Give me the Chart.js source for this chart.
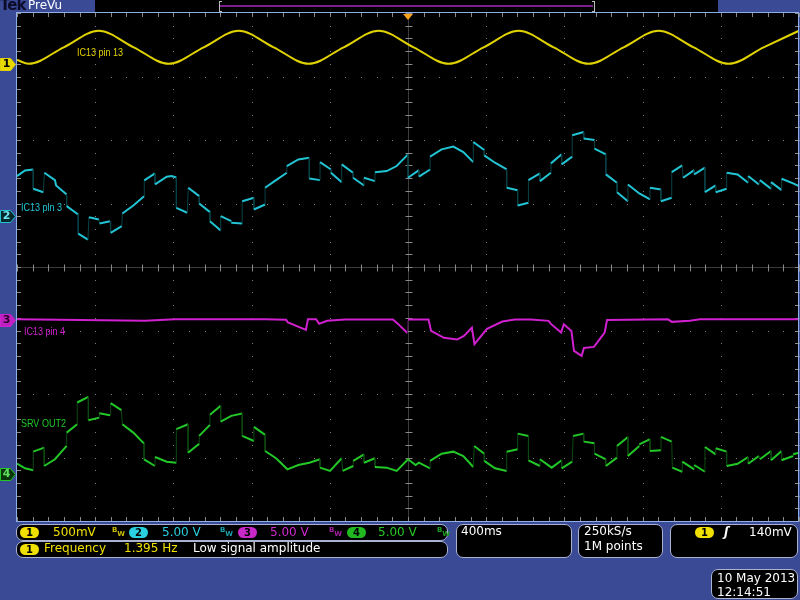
<!DOCTYPE html>
<html>
<head>
<meta charset="utf-8">
<script src="https://cdn.jsdelivr.net/npm/chart.js@4.4.1/dist/chart.umd.min.js"></script>
<style>
  body { margin: 0; background: #3a4a95; }
  #screen { position: relative; width: 800px; height: 600px; overflow: hidden; font-family: "DejaVu Sans", sans-serif; }
  #scope { position: absolute; left: 0; top: 0; }
  .abs { position: absolute; white-space: nowrap; }
  .box { position: absolute; background: #000; border: 1.5px solid #aab2d0; border-radius: 7px; box-sizing: border-box; }
  .txt { position: absolute; white-space: nowrap; font-size: 12px; line-height: 14px; color: #fff; }
  .badge { position: absolute; width: 19px; height: 11px; border-radius: 6px; font: bold 10px/11px "DejaVu Sans", sans-serif; text-align: center; color: #000; }
  .bw { position: absolute; font-size: 7px; line-height: 7px; font-weight: bold; }
  .bw sub { font-size: 7px; vertical-align: -4px; }
  .lbl { position: absolute; white-space: nowrap; font: 11px/12px "Liberation Sans", Arial, sans-serif; transform: scaleX(0.82); transform-origin: left center; }
  .mk { position: absolute; left: 1px; width: 11px; text-align: center; font: bold 11px/14px "DejaVu Sans", sans-serif; }
</style>
</head>
<body>
<div id="screen">
  <canvas id="scope" width="800" height="600"></canvas>

  <!-- top bar -->
  <div class="abs" style="left:95px;top:0;width:623px;height:12px;background:#000"></div>
  <div class="abs" style="left:220px;top:5px;width:373px;height:2px;background:#7e1f8e"></div>
  <div class="abs" style="left:219px;top:1px;width:2px;height:9px;border:1px solid #bbb;border-right:none"></div>
  <div class="abs" style="left:592px;top:1px;width:2px;height:9px;border:1px solid #bbb;border-left:none"></div>
  <div class="abs" style="left:0;top:-3px;font:bold 15px/16px 'DejaVu Sans',sans-serif;color:#0c0c2a;letter-spacing:-1px">Tek</div>
  <div class="abs" style="left:28px;top:-2px;font:12px/14px 'DejaVu Sans',sans-serif;color:#fff">PreVu</div>

  <!-- trace labels -->
  <div class="lbl" style="left:77px;top:46px;color:#e0d200">IC13 pin 13</div>
  <div class="lbl" style="left:21px;top:201px;color:#22c4d4">IC13 pin 3</div>
  <div class="lbl" style="left:24px;top:325px;color:#d020d0">IC13 pin 4</div>
  <div class="lbl" style="left:21px;top:417px;color:#22c828">SRV OUT2</div>

  <!-- channel ground markers -->
  <div class="mk" id="mk1" style="color:#000">1</div>
  <div class="mk" id="mk2" style="color:#6fe6f0">2</div>
  <div class="mk" id="mk3" style="color:#2a002a">3</div>
  <div class="mk" id="mk4" style="color:#5ee05e">4</div>

  <!-- status boxes -->
  <div class="box" style="left:16px;top:524px;width:432px;height:17px"></div>
  <div class="box" style="left:16px;top:541px;width:432px;height:17px"></div>
  <div class="box" style="left:456px;top:524px;width:116px;height:34px"></div>
  <div class="box" style="left:578px;top:524px;width:85px;height:34px"></div>
  <div class="box" style="left:670px;top:524px;width:128px;height:34px"></div>
  <div class="box" style="left:711px;top:569px;width:87px;height:30px"></div>

  <span class="badge" style="left:20px;top:527px;background:#f0e000">1</span>
  <span class="txt" style="left:53px;top:525px;color:#f0e000">500mV</span>
  <span class="bw" style="left:112px;top:527px;color:#c8bc00">B<sub>W</sub></span>
  <span class="badge" style="left:129px;top:527px;background:#2ad0e0">2</span>
  <span class="txt" style="left:162px;top:525px;color:#2ad0e0">5.00 V</span>
  <span class="bw" style="left:220px;top:527px;color:#1aa0ac">B<sub>W</sub></span>
  <span class="badge" style="left:238px;top:527px;background:#c828c8">3</span>
  <span class="txt" style="left:270px;top:525px;color:#d22ad2">5.00 V</span>
  <span class="bw" style="left:329px;top:527px;color:#a020a0">B<sub>W</sub></span>
  <span class="badge" style="left:347px;top:527px;background:#22b822">4</span>
  <span class="txt" style="left:378px;top:525px;color:#28c828">5.00 V</span>
  <span class="bw" style="left:437px;top:527px;color:#20a020">B<sub>W</sub></span>

  <span class="badge" style="left:20px;top:544px;background:#f0e000">1</span>
  <span class="txt" style="left:44px;top:541px;color:#f0e000">Frequency</span>
  <span class="txt" style="left:124px;top:541px;color:#f0e000">1.395 Hz</span>
  <span class="txt" style="left:193px;top:541px">Low signal amplitude</span>

  <span class="txt" style="left:461px;top:524px">400ms</span>
  <span class="txt" style="left:584px;top:524px">250kS/s</span>
  <span class="txt" style="left:584px;top:539px">1M points</span>
  <span class="badge" style="left:695px;top:527px;background:#f0e000">1</span>
  <span class="txt" style="left:724px;top:525px;font-style:italic;font-weight:bold">ʃ</span>
  <span class="txt" style="left:749px;top:525px">140mV</span>
  <span class="txt" style="left:717px;top:571px">10 May 2013</span>
  <span class="txt" style="left:717px;top:585px">12:14:51</span>
</div>

<script>
// scope settings: 400 ms/div over 10 divisions, 8 vertical divisions
const timeRangeMs = [-2000, 2000];
const divRange = [-4, 4];
const channelNames = ['IC13 pin 13', 'IC13 pin 3', 'IC13 pin 4', 'SRV OUT2'];
const voltsPerDiv = [0.5, 5, 5, 5];
const groundDiv = [3.20, 0.80, -0.84, -3.26];

// traces: [time ms, volts]
const ch1Trace = [
  [-2000, 0.03], [-1940, 0], [-1761, 0.13], [-1582, 0.26], [-1403, 0.13], [-1224, 0],
  [-1045, 0.13], [-866, 0.26], [-687, 0.13], [-508, 0], [-329, 0.13], [-150, 0.26],
  [29, 0.13], [208, 0], [387, 0.13], [566, 0.26], [745, 0.13], [924, 0],
  [1103, 0.13], [1282, 0.26], [1461, 0.13], [1640, 0], [1819, 0.13], [2000, 0.26]
];
const ch2Trace = [
  [-2000, 3.16], [-1959, 3.6], [-1917, 3.68], [-1917, 2.16], [-1865, 1.89],
  [-1860, 3.42], [-1806, 2.84], [-1800, 2.42], [-1746, 1.71],
  [-1746, 0.79], [-1687, 0.13], [-1687, -1.37], [-1637, -1.84],
  [-1632, -0.08], [-1581, -0.26], [-1578, -0.58], [-1524, -0.39],
  [-1521, -1.31], [-1464, -0.79], [-1461, 0.21], [-1405, 0.84], [-1350, 1.58],
  [-1349, 2.82], [-1294, 3.37], [-1294, 2.5], [-1234, 3.11], [-1209, 3.17], [-1185, 3.05],
  [-1185, 0.66], [-1129, 0.27], [-1124, 2.24], [-1068, 1.58], [-1068, 1.0], [-1013, 0.32],
  [-1013, -0.39], [-958, -1.13], [-958, 0], [-904, -0.39], [-904, -0.52], [-848, -0.58],
  [-848, 1.18], [-788, 1.45], [-788, 0.53], [-731, 0.92],
  [-731, 2.24], [-675, 2.84], [-620, 3.42], [-620, 3.95], [-561, 4.47], [-505, 4.61],
  [-505, 2.97], [-450, 2.84], [-450, 4.26], [-394, 3.68], [-394, 3.42], [-339, 2.68],
  [-339, 4.08], [-281, 3.42], [-281, 3.03], [-225, 2.42], [-225, 3.03], [-169, 2.76],
  [-169, 3.47], [-109, 3.55], [-58, 3.95], [0, 4.87], [0, 3.03], [56, 3.63],
  [56, 3.11], [113, 3.68], [113, 4.69], [172, 5.26], [232, 5.48], [283, 5.05], [334, 4.26],
  [334, 5.84], [390, 5.21], [390, 4.79], [445, 4.21], [505, 3.68],
  [505, 2.24], [561, 2.05], [561, 0.84], [616, 1.06], [616, 2.84], [675, 3.37],
  [675, 2.76], [731, 3.42], [731, 4.16], [786, 4.87], [786, 4.08], [840, 4.69],
  [840, 6.37], [899, 6.63], [899, 6.11], [954, 6.0], [954, 5.32], [1012, 4.87],
  [1012, 3.29], [1069, 2.63], [1069, 1.89], [1125, 1.18],
  [1125, 2.5], [1183, 1.79], [1238, 1.32], [1238, 2.24], [1294, 2.11],
  [1294, 1.18], [1349, 1.45], [1349, 3.47], [1403, 4.0], [1407, 3.03], [1464, 3.63],
  [1464, 3.29], [1519, 3.82], [1519, 1.89], [1574, 2.42], [1574, 1.89], [1630, 2.16],
  [1630, 3.42], [1686, 3.29], [1740, 2.63], [1740, 3.16], [1795, 2.5],
  [1800, 2.84], [1857, 2.16], [1857, 2.68], [1911, 2.05], [1911, 2.95], [1970, 2.58], [2000, 2.37]
];
const ch3Trace = [
  [-2000, 0.08], [-1345, -0.04], [-1192, 0.08], [-731, 0.09], [-624, 0.04], [-614, -0.17],
  [-522, -0.75], [-512, 0.08], [-470, 0.08], [-455, -0.28], [-414, -0.04], [-322, 0.06],
  [-77, 0.06], [-51, -0.28], [-3, -0.99], [0, 0.06], [105, 0.06], [118, -0.83],
  [184, -1.38], [251, -1.51], [286, -1.22], [327, -0.57], [340, -1.88], [404, -0.67],
  [483, -0.09], [547, 0.06], [627, 0.06], [719, -0.04], [731, -0.28], [783, -0.96],
  [797, -0.3], [836, -0.83], [849, -2.41], [888, -2.8], [900, -2.17], [951, -2.09],
  [1006, -0.96], [1018, 0.02], [1330, 0.08], [1350, -0.12], [1442, -0.04], [1494, 0.08], [2000, 0.08]
];
const ch4Trace = [
  [-2000, 0.81], [-1959, 0.45], [-1917, 0.29], [-1917, 1.76], [-1861, 2.08],
  [-1861, 0.63], [-1806, 1.16], [-1746, 2.21], [-1746, 3.26], [-1692, 3.92],
  [-1692, 5.63], [-1635, 6.08], [-1635, 4.24], [-1579, 4.44], [-1579, 4.79], [-1524, 4.63],
  [-1521, 5.58], [-1466, 5.03], [-1461, 3.92], [-1405, 3.26], [-1350, 2.39],
  [-1350, 1.16], [-1294, 0.63], [-1294, 1.34], [-1234, 0.97], [-1185, 0.89],
  [-1185, 3.53], [-1125, 3.92], [-1125, 1.68], [-1068, 2.39], [-1068, 3.0], [-1013, 3.87],
  [-1013, 4.66], [-958, 5.37], [-958, 4.13], [-904, 4.58], [-848, 4.76],
  [-848, 3.0], [-788, 2.6], [-788, 3.71], [-731, 3.08],
  [-731, 1.81], [-675, 1.24], [-617, 0.37], [-561, 0.71], [-505, 0.89], [-450, 1.16],
  [-450, 0.5], [-399, 0.24], [-339, 1.24], [-334, 0.24], [-280, 0.63], [-280, 1.03], [-225, 1.55],
  [-225, 0.89], [-169, 1.24], [-169, 0.55], [-109, 0.5], [-58, 0.24], [0, 1.16], [39, 0.71],
  [56, 0.89], [113, 0.45], [113, 1.03], [172, 1.6], [232, 1.76], [283, 1.42], [334, 0.55],
  [339, 2.21], [390, 1.6], [390, 1.03], [445, 0.45], [505, 0.24],
  [505, 1.76], [561, 1.95], [561, 3.18], [616, 3.0],
  [616, 1.08], [675, 0.63], [675, 1.16], [735, 0.5], [786, 1.08], [786, 0.45], [840, 0.97],
  [845, 3.0], [899, 3.18], [899, 2.55], [954, 2.42], [954, 1.6], [1012, 1.16],
  [1012, 0.63], [1069, 1.29], [1069, 2.21], [1125, 2.92],
  [1125, 1.42], [1183, 2.21], [1183, 2.34], [1238, 2.74], [1238, 1.81], [1294, 1.87],
  [1294, 2.92], [1349, 2.55], [1352, 0.5], [1403, 0.18], [1403, 0.97], [1464, 0.37],
  [1464, 0.71], [1519, 0.18], [1519, 2.13], [1574, 1.55], [1574, 2.03], [1630, 1.76],
  [1630, 0.63], [1686, 0.81], [1740, 1.34], [1740, 0.81], [1795, 1.42], [1800, 1.16],
  [1857, 1.81], [1857, 1.08], [1911, 1.81], [1911, 1.08], [1970, 1.42], [1970, 1.55], [2000, 1.68]
];

const traceColors = ['#e0d200', '#22c4d4', '#d020d0', '#22c828'];
const jumpColors = ['#6a6400', '#0a4247', '#55105a', '#0d4a0f'];

// volts -> screen divisions using each channel's scale and ground position
function toScreen(trace, ch) {
  return trace.map(([t, v]) => ({ x: t, y: groundDiv[ch] + v / voltsPerDiv[ch] }));
}

// the vertical jumps between sampled segments are drawn dim and thin, like on the scope
function isJump(c) {
  return Math.abs(c.p1.parsed.x - c.p0.parsed.x) < 6;
}

function traceDataset(trace, ch, smooth) {
  return {
    label: channelNames[ch],
    data: toScreen(trace, ch),
    borderColor: traceColors[ch],
    borderWidth: 2,
    pointRadius: 0,
    tension: 0,
    cubicInterpolationMode: smooth ? 'monotone' : 'default',
    segment: smooth ? undefined : {
      borderColor: c => isJump(c) ? jumpColors[ch] : traceColors[ch],
      borderWidth: c => isJump(c) ? 1 : 2
    }
  };
}

// graticule: black screen, dotted divisions, centre cross ticks, frame and channel markers
const scopeScreen = {
  id: 'scopeScreen',
  beforeDraw(chart) {
    const { ctx, chartArea: a } = chart;
    ctx.save();
    ctx.fillStyle = '#000';
    ctx.fillRect(a.left, a.top, a.width, a.height);
    ctx.restore();
  },
  beforeDatasetsDraw(chart) {
    const { ctx, chartArea: a, scales: { x, y } } = chart;
    ctx.save();
    // dotted division lines, one dot per minor step
    ctx.fillStyle = '#7c7c7c';
    x.ticks.forEach(tk => {
      const px = Math.round(x.getPixelForValue(tk.value));
      for (let i = -20; i <= 20; i++) {
        ctx.fillRect(px, Math.round(y.getPixelForValue(i / 5)), 1, 1);
      }
    });
    y.ticks.forEach(tk => {
      const py = Math.round(y.getPixelForValue(tk.value));
      for (let i = -25; i <= 25; i++) {
        ctx.fillRect(Math.round(x.getPixelForValue(i * 80)), py, 1, 1);
      }
    });

    const cx = Math.round(x.getPixelForValue(0)) + 0.5;
    const cy = Math.round(y.getPixelForValue(0)) + 0.5;
    ctx.lineWidth = 1;
    ctx.strokeStyle = '#3c3c3c';
    ctx.beginPath();
    ctx.moveTo(a.left, cy); ctx.lineTo(a.right, cy);
    ctx.moveTo(cx, a.top); ctx.lineTo(cx, a.bottom);
    ctx.stroke();
    ctx.strokeStyle = '#8a8a8a';
    ctx.beginPath();
    for (let i = -25; i <= 25; i++) {
      const px = Math.round(x.getPixelForValue(i * 80)) + 0.5;
      ctx.moveTo(px, cy - 3); ctx.lineTo(px, cy + 4);
      ctx.moveTo(px, a.top); ctx.lineTo(px, a.top + 4);
      ctx.moveTo(px, a.bottom); ctx.lineTo(px, a.bottom - 4);
    }
    for (let i = -20; i <= 20; i++) {
      const py = Math.round(y.getPixelForValue(i / 5)) + 0.5;
      ctx.moveTo(cx - 3, py); ctx.lineTo(cx + 4, py);
      ctx.moveTo(a.left, py); ctx.lineTo(a.left + 4, py);
      ctx.moveTo(a.right, py); ctx.lineTo(a.right - 4, py);
    }
    ctx.stroke();
    ctx.restore();
  },
  afterDraw(chart) {
    const { ctx, chartArea: a, scales: { x, y } } = chart;
    ctx.save();
    ctx.strokeStyle = '#8eaee8';
    ctx.lineWidth = 1;
    ctx.strokeRect(a.left - 0.5, a.top - 0.5, a.width, a.height + 1);

    // trigger position markers
    const tx = x.getPixelForValue(0);
    ctx.fillStyle = '#f5a21e';
    ctx.beginPath();
    ctx.moveTo(tx - 5, a.top + 1); ctx.lineTo(tx + 5, a.top + 1); ctx.lineTo(tx, a.top + 7);
    ctx.closePath(); ctx.fill();
    ctx.beginPath();
    ctx.moveTo(tx - 4, 0); ctx.lineTo(tx + 4, 0); ctx.lineTo(tx, 4);
    ctx.closePath(); ctx.fill();

    // channel ground markers
    const fills = ['#e8da00', '#05282c', '#c020c0', '#0a360c'];
    groundDiv.forEach((g, i) => {
      const py = Math.round(y.getPixelForValue(g)) + 0.5;
      ctx.beginPath();
      ctx.moveTo(0.5, py - 6); ctx.lineTo(10.5, py - 6); ctx.lineTo(15.5, py);
      ctx.lineTo(10.5, py + 6); ctx.lineTo(0.5, py + 6); ctx.closePath();
      ctx.fillStyle = fills[i];
      ctx.fill();
      ctx.strokeStyle = traceColors[i];
      ctx.stroke();
    });
    ctx.restore();
  }
};

const ctx = document.getElementById('scope').getContext('2d');
const scopeChart = new Chart(ctx, {
  type: 'line',
  data: {
    datasets: [
      traceDataset(ch4Trace, 3, false),
      traceDataset(ch3Trace, 2, false),
      traceDataset(ch2Trace, 1, false),
      traceDataset(ch1Trace, 0, true)
    ]
  },
  options: {
    responsive: false,
    animation: false,
    events: [],
    layout: { padding: { left: 17, top: 13, right: 1, bottom: 79 } },
    scales: {
      x: {
        type: 'linear',
        min: timeRangeMs[0],
        max: timeRangeMs[1],
        ticks: { display: false, stepSize: 400 },
        grid: { display: false, drawTicks: false },
        border: { display: false }
      },
      y: {
        type: 'linear',
        min: divRange[0],
        max: divRange[1],
        ticks: { display: false, stepSize: 1 },
        grid: { display: false, drawTicks: false },
        border: { display: false }
      }
    },
    plugins: {
      legend: { display: false },
      tooltip: { enabled: false }
    }
  },
  plugins: [scopeScreen]
});

// place the marker numbers on the ground levels
groundDiv.forEach((g, i) => {
  const el = document.getElementById('mk' + (i + 1));
  el.style.top = (scopeChart.scales.y.getPixelForValue(g) - 7) + 'px';
});
</script>
</body>
</html>
